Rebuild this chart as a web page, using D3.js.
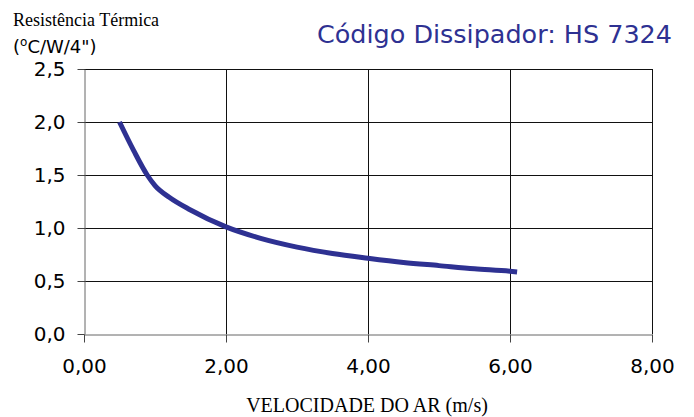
<!DOCTYPE html>
<html>
<head>
<meta charset="utf-8">
<script src="https://cdn.jsdelivr.net/npm/d3@7"></script>
<style>
  body { margin: 0; background: #fff; }
  svg { display: block; }
</style>
</head>
<body>
<div id="chart"></div>
<script>
// air speed (m/s) vs thermal resistance (°C/W/4")
const speeds = [0.5, 0.7, 0.89, 1.0, 1.2, 1.5, 2.0, 2.5, 3.0, 3.5, 4.0, 4.5, 5.0, 5.5, 6.0, 6.1];
const resistance = [2.0, 1.73, 1.5, 1.4, 1.29, 1.17, 1.01, 0.9, 0.82, 0.76, 0.715, 0.675, 0.645, 0.615, 0.592, 0.585];
const xTicks = [0, 2, 4, 6, 8];
const yTicks = [0, 0.5, 1.0, 1.5, 2.0, 2.5];

const width = 694, height = 417;
const margin = { left: 84, right: 42, top: 69, bottom: 83 };
const blue = "#2e3192";

const svg = d3.select("#chart").append("svg")
    .attr("width", width)
    .attr("height", height);

const x = d3.scaleLinear().domain([0, 8]).range([margin.left, width - margin.right]);
const y = d3.scaleLinear().domain([0, 2.5]).range([height - margin.bottom, margin.top]);

const fmtX = d => d3.format(".2f")(d).replace(".", ",");
const fmtY = d => d3.format(".1f")(d).replace(".", ",");

// grid
svg.append("g")
    .selectAll("line")
    .data(yTicks.filter(d => d > 0))
    .join("line")
    .attr("x1", x(0)).attr("x2", x(8))
    .attr("y1", d => Math.round(y(d)) + 0.5).attr("y2", d => Math.round(y(d)) + 0.5)
    .attr("stroke", "#111");

svg.append("g")
    .selectAll("line")
    .data(xTicks.filter(d => d > 0))
    .join("line")
    .attr("x1", d => Math.round(x(d)) + 0.5).attr("x2", d => Math.round(x(d)) + 0.5)
    .attr("y1", y(2.5)).attr("y2", y(0))
    .attr("stroke", "#111");

// axes
const xAxis = svg.append("g")
    .attr("transform", `translate(0,${Math.round(y(0)) + 0.5})`)
    .call(d3.axisBottom(x).tickValues(xTicks).tickFormat(fmtX).tickSize(8).tickPadding(16).tickSizeOuter(0));

const yAxis = svg.append("g")
    .attr("transform", `translate(${Math.round(x(0)) + 0.5},0)`)
    .call(d3.axisLeft(y).tickValues(yTicks).tickFormat(fmtY).tickSize(7).tickPadding(12).tickSizeOuter(0));

[xAxis, yAxis].forEach(g => {
    g.select(".domain").attr("stroke", "#666");
    g.selectAll(".tick line").attr("stroke", "#444");
    g.selectAll("text")
        .attr("fill", "#000")
        .style("font-family", "'DejaVu Sans', Verdana, sans-serif")
        .style("font-size", "20px");
});
yAxis.selectAll("text").attr("dy", "0.3em");

// curve
const line = d3.line()
    .x((d, i) => x(speeds[i]))
    .y(d => y(d))
    .curve(d3.curveMonotoneX);

svg.append("path")
    .datum(resistance)
    .attr("d", line)
    .attr("fill", "none")
    .attr("stroke", blue)
    .attr("stroke-width", 5)
    .attr("stroke-linejoin", "round");

// labels
svg.append("text")
    .attr("x", 13).attr("y", 26)
    .style("font-family", "'Liberation Serif', 'Times New Roman', serif")
    .style("font-size", "18px")
    .text("Resistência Térmica");

const unit = svg.append("text")
    .attr("x", 13).attr("y", 53)
    .style("font-family", "'DejaVu Sans', Verdana, sans-serif")
    .style("font-size", "18px");
unit.append("tspan").text("(");
unit.append("tspan").attr("dy", -7).style("font-size", "12px").text("o");
unit.append("tspan").attr("dy", 7).text("C/W/4\")");

svg.append("text")
    .attr("x", 672).attr("y", 43)
    .attr("text-anchor", "end")
    .attr("fill", blue)
    .attr("textLength", 355)
    .attr("lengthAdjust", "spacingAndGlyphs")
    .style("font-family", "'DejaVu Sans', Tahoma, sans-serif")
    .style("font-size", "25px")
    .text("Código Dissipador: HS 7324");

svg.append("text")
    .attr("x", 367).attr("y", 412)
    .attr("text-anchor", "middle")
    .style("font-family", "'Liberation Serif', 'Times New Roman', serif")
    .style("font-size", "20px")
    .text("VELOCIDADE DO AR (m/s)");
</script>
</body>
</html>
